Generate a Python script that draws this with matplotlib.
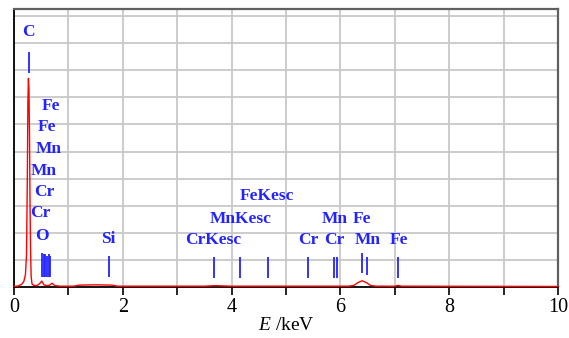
import matplotlib.pyplot as plt

plt.rcParams['mathtext.fontset'] = 'custom'
plt.rcParams['mathtext.it'] = 'Liberation Serif:italic'
plt.rcParams['mathtext.rm'] = 'Liberation Serif'

# EDS spectrum (energy in keV, counts in arbitrary units)
spec_E = [0.0, 0.08, 0.14, 0.18, 0.21, 0.23, 0.245, 0.255, 0.265, 0.275, 0.285,
          0.295, 0.305, 0.315, 0.33, 0.36, 0.42, 0.47, 0.51, 0.55, 0.6, 0.65,
          0.7, 0.75, 0.85, 1.1, 1.2, 1.5, 1.8, 1.9, 3.5, 3.7, 4.0, 6.15, 6.25,
          6.32, 6.4, 6.48, 6.55, 6.65, 7.0, 7.06, 7.12, 10.0]
spec_I = [0.02, 0.04, 0.1, 0.2, 0.45, 1.2, 4.0, 6.8, 7.7, 7.3, 5.6,
          3.0, 1.3, 0.4, 0.12, 0.06, 0.05, 0.12, 0.22, 0.08, 0.05, 0.06,
          0.14, 0.05, 0.03, 0.03, 0.07, 0.08, 0.07, 0.03, 0.03, 0.05, 0.03, 0.03, 0.06,
          0.16, 0.23, 0.16, 0.06, 0.03, 0.03, 0.06, 0.03, 0.02]

# marker lines: energy, top, bottom
line_E = [0.276, 0.52, 0.545, 0.575, 0.61, 0.635, 0.67, 1.74,
          3.67, 4.15, 4.66, 5.41, 5.89, 5.94, 6.40, 6.48, 7.06]
line_top = [8.67, 1.25, 1.2, 1.2, 1.15, 1.2, 1.15, 1.14,
            1.11, 1.11, 1.11, 1.11, 1.11, 1.11, 1.25, 1.11, 1.11]
line_bot = [7.9, 0.37, 0.37, 0.37, 0.37, 0.37, 0.37, 0.37,
            0.33, 0.33, 0.33, 0.33, 0.33, 0.33, 0.52, 0.44, 0.33]

# element labels
lab_text = ['C', 'O', 'Cr', 'Cr', 'Mn', 'Mn', 'Fe', 'Fe', 'Si',
            'CrKesc', 'MnKesc', 'FeKesc', 'Cr', 'Cr', 'Mn', 'Fe', 'Mn', 'Fe']
lab_x = [0.27, 0.52, 0.49, 0.56, 0.54, 0.63, 0.61, 0.68, 1.74,
         3.67, 4.16, 4.65, 5.41, 5.88, 5.89, 6.40, 6.50, 7.07]
lab_y = [9.4, 1.88, 2.73, 3.5, 4.28, 5.09, 5.9, 6.68, 1.77,
         1.73, 2.51, 3.36, 1.73, 1.73, 2.51, 2.51, 1.73, 1.73]

blue = '#2323ff'

fig = plt.figure(figsize=(5.69, 3.38), dpi=100)
ax = fig.add_axes([14 / 569, 51 / 338, 544 / 569, 278 / 338])

ax.set_xlim(0, 10)
ax.set_ylim(0, 10.26)
ax.set_xticks(range(0, 11))
ax.set_xticklabels([str(i) if i % 2 == 0 else '' for i in range(0, 11)],
                   family='Liberation Serif', fontsize=14.5)
ax.set_yticks(range(1, 11))
ax.tick_params(axis='y', length=0, labelleft=False)
ax.tick_params(axis='x', direction='out', length=6, width=1.2, pad=2)
ax.grid(True, color='#c8c8c8', linewidth=1.3)
ax.set_axisbelow(True)

for s in ['top', 'right']:
    ax.spines[s].set_color('#606060')
    ax.spines[s].set_linewidth(1.6)
for s in ['left', 'bottom']:
    ax.spines[s].set_color('black')
    ax.spines[s].set_linewidth(1.3)

ax.plot(spec_E, spec_I, color='red', linewidth=1.0, zorder=5, clip_on=False)
ax.vlines(line_E, line_bot, line_top, color=blue, linewidth=1.3, zorder=4)

for t, x, y in zip(lab_text, lab_x, lab_y):
    ax.text(x, y, t, color=blue, ha='center', va='center', fontsize=12.5,
            family='Liberation Serif', fontweight='bold')

ax.set_xlabel(r'$E$ /keV', family='Liberation Serif', fontsize=14, labelpad=0)

plt.savefig('out.png', dpi=100)
